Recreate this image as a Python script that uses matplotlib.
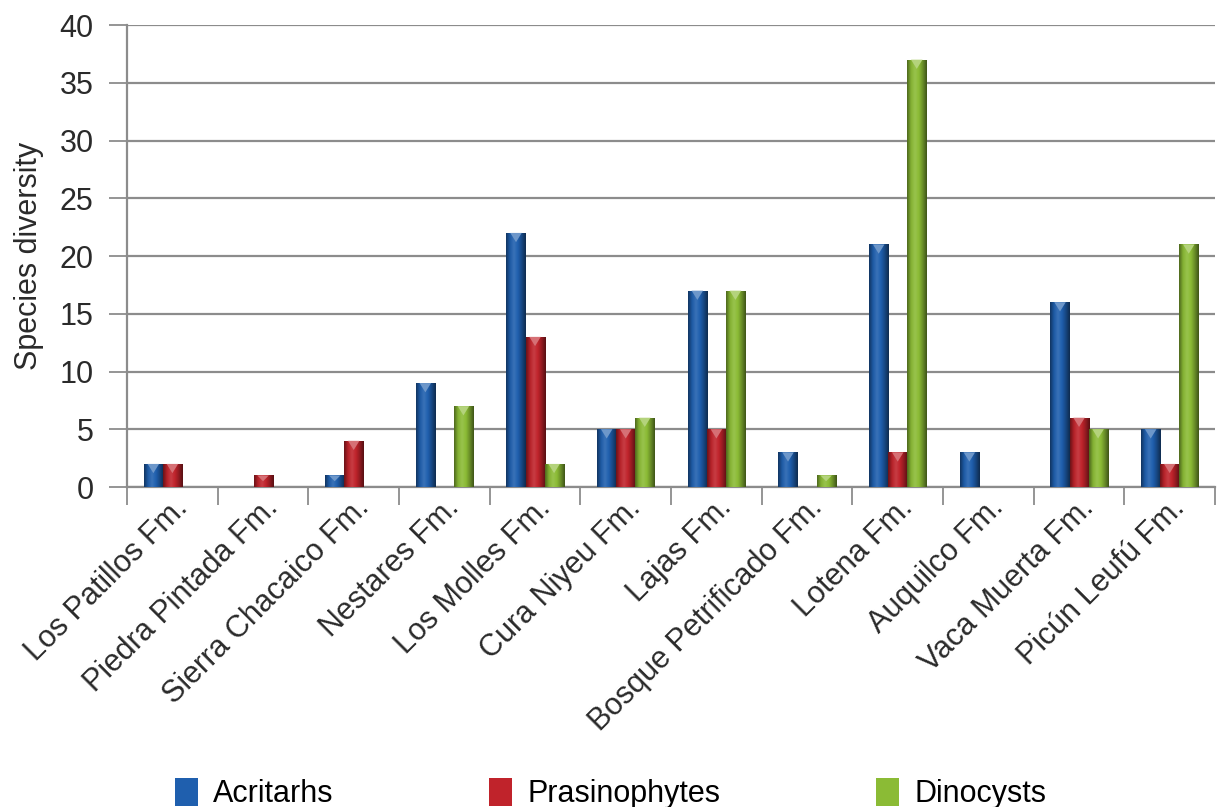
import numpy as np
import matplotlib.pyplot as plt
from matplotlib.colors import LinearSegmentedColormap, to_rgb
from matplotlib.patches import Patch, Polygon
from matplotlib.transforms import ScaledTranslation

plt.rcParams['font.family'] = ['Liberation Sans', 'DejaVu Sans']

formations = ['Los Patillos Fm.', 'Piedra Pintada Fm.', 'Sierra Chacaico Fm.',
              'Nestares Fm.', 'Los Molles Fm.', 'Cura Niyeu Fm.', 'Lajas Fm.',
              'Bosque Petrificado Fm.', 'Lotena Fm.', 'Auquilco Fm.',
              'Vaca Muerta Fm.', 'Picún Leufú Fm.']
acritarhs = [2, 0, 1, 9, 22, 5, 17, 3, 21, 3, 16, 5]
prasinophytes = [2, 1, 4, 0, 13, 5, 5, 0, 3, 0, 6, 2]
dinocysts = [0, 0, 0, 7, 2, 6, 17, 1, 37, 0, 5, 21]

series = [('Acritarhs', acritarhs, '#1f5fae'),
          ('Prasinophytes', prasinophytes, '#c0232b'),
          ('Dinocysts', dinocysts, '#8bbb35')]
txt = '#2a2a2a'


def shade(c, f):
    r = np.array(to_rgb(c))
    if f < 0:
        return tuple(r * (1 + f))
    return tuple(r + (1 - r) * f)


fig = plt.figure(figsize=(12.17, 8.07), dpi=100)
ax = fig.add_axes([0.1044, 0.3965, 0.894, 0.5725])

x = np.arange(len(formations))
w = 0.21
grad = np.linspace(0, 1, 64).reshape(1, -1)

for i, (name, vals, col) in enumerate(series):
    cmap = LinearSegmentedColormap.from_list(
        name, [shade(col, -0.45), shade(col, -0.05), shade(col, 0.12),
               col, shade(col, -0.25), shade(col, -0.55)])
    bars = ax.bar(x + (i - 1) * w, vals, w, color=col, linewidth=0, zorder=3)
    for b, v in zip(bars, vals):
        if v <= 0:
            continue
        x0, x1 = b.get_x(), b.get_x() + b.get_width()
        im = ax.imshow(grad, cmap=cmap, aspect='auto', extent=[x0, x1, 0, v],
                       zorder=4, interpolation='bicubic')
        im.set_clip_path(b)
        # small highlight chevron on the bar top
        xc = (x0 + x1) / 2
        th = min(0.8, v * 0.5)
        ax.add_patch(Polygon([[xc - w * 0.3, v], [xc + w * 0.3, v], [xc, v - th]],
                             closed=True, color=shade(col, 0.35), lw=0, zorder=5))

ax.set_xlim(-0.5, len(formations) - 0.5)
ax.set_ylim(0, 40)
ax.set_yticks(range(0, 41, 5))
ax.grid(axis='y', color='#8c8c8c', linewidth=1.6, zorder=0)
ax.set_axisbelow(True)

ax.set_xticks(x)
ax.set_xticklabels(formations, rotation=45, ha='right', rotation_mode='anchor',
                   fontsize=22, color=txt)
shift = ScaledTranslation(14 / 100, 0, fig.dpi_scale_trans)
for lab in ax.get_xticklabels():
    lab.set_transform(lab.get_transform() + shift)
ax.set_xticks(np.arange(-0.5, len(formations), 1), minor=True)
ax.tick_params(axis='x', which='major', length=0, pad=4)
ax.tick_params(axis='x', which='minor', length=13, width=1.3, color='#8c8c8c')
ax.tick_params(axis='y', length=13, width=1.3, color='#8c8c8c', labelsize=22,
               labelcolor=txt, pad=11)

for s in ['top', 'right']:
    ax.spines[s].set_visible(False)
for s in ['left', 'bottom']:
    ax.spines[s].set_color('#8c8c8c')
    ax.spines[s].set_linewidth(1.6)

ax.set_ylabel('Species diversity', fontsize=22, color=txt, labelpad=11)

handles = [Patch(facecolor=c, edgecolor='none') for _, _, c in series]
fig.legend(handles, [n for n, _, _ in series], loc='lower left',
           bbox_to_anchor=(0.121, -0.037), ncol=3, frameon=False, fontsize=22,
           handlelength=0.75, handleheight=1.0, handletextpad=0.5,
           columnspacing=5.1)

fig.savefig('out.png', dpi=100)
